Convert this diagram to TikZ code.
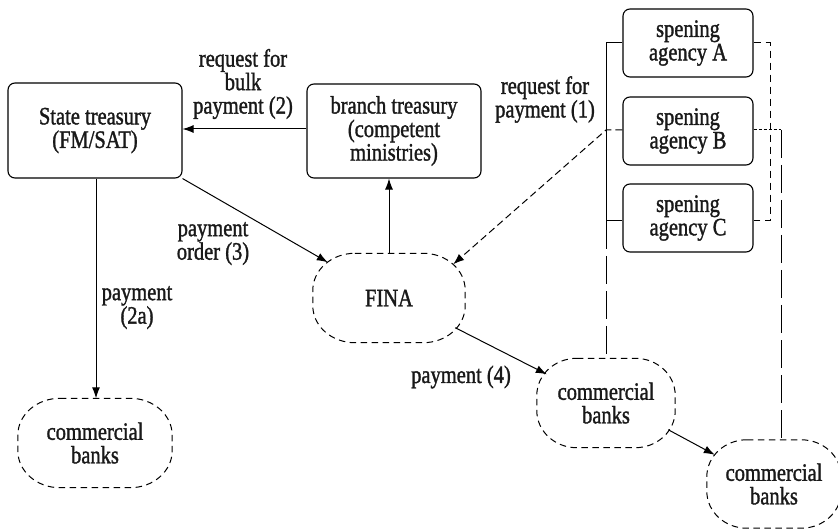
\documentclass[tikz,border=0pt]{standalone}
\usepackage{graphicx}
\usepackage{fontspec}
\setmainfont{Liberation Serif}[FakeBold=1.5]
\usetikzlibrary{arrows.meta}
\newcommand\sq[1]{\scalebox{0.82}[1]{#1}}
\newcommand\drawcloud[3]{%
  \draw[cloudline] ([xshift=#2pt]#1.north west) -- ([xshift=-#2pt]#1.north east)
    arc[start angle=-90,end angle=0,x radius=#2,y radius=#3]
    -- ([yshift=#3pt]#1.south east)
    arc[start angle=0,end angle=90,x radius=#2,y radius=#3]
    -- ([xshift=#2pt]#1.south west)
    arc[start angle=90,end angle=180,x radius=#2,y radius=#3]
    -- ([yshift=-#3pt]#1.north west)
    arc[start angle=180,end angle=270,x radius=#2,y radius=#3] -- cycle;}
\begin{document}
\begin{tikzpicture}[x=1pt,y=-1pt,
  every node/.style={font=\fontsize{25}{23.5}\selectfont, align=center, inner sep=0pt, text=black!90},
  box/.style={draw, line width=1.1pt, rounded corners=7pt},
  cloud/.style={minimum height=89pt},
  cloudline/.style={line width=1pt, dash pattern=on 6.5pt off 4.5pt},
  arr/.style={line width=1pt, -{Latex[length=11pt,width=8pt]}},
  dsh/.style={line width=1pt, dash pattern=on 7pt off 4pt},
  longdash/.style={line width=1pt, dash pattern=on 28pt off 7pt},
  shortdash/.style={line width=1pt, dash pattern=on 7pt off 5pt},
  dotdash/.style={line width=1pt, dash pattern=on 3pt off 2pt},
  lbl/.style={}
]
\useasboundingbox (0,0) rectangle (838,529);

% boxes
\node[box, minimum width=174pt, minimum height=95pt] (state) at (95,130.5) {\sq{State treasury}\\\sq{(FM/SAT)}};
\node[box, minimum width=174pt, minimum height=94pt] (branch) at (394,131) {\sq{branch treasury}\\\sq{(competent}\\\sq{ministries)}};
\node[box, minimum width=130pt, minimum height=68pt] (agA) at (688,43) {\sq{spening}\\\sq{agency A}};
\node[box, minimum width=130pt, minimum height=68pt] (agB) at (688,131) {\sq{spening}\\\sq{agency B}};
\node[box, minimum width=130pt, minimum height=68pt] (agC) at (688,218) {\sq{spening}\\\sq{agency C}};

% clouds
\node[cloud, minimum width=152pt] (fina) at (389,298) {\sq{FINA}};
\node[cloud, minimum width=154pt] (cbl) at (95,443) {\sq{commercial}\\\sq{banks}};
\node[cloud, minimum width=138pt] (cb1) at (606,403) {\sq{commercial}\\\sq{banks}};
\node[cloud, minimum width=134pt, minimum height=88pt] (cb2) at (774,484) {\sq{commercial}\\\sq{banks}};
\drawcloud{fina}{42}{37}
\drawcloud{cbl}{42}{37}
\drawcloud{cb1}{40}{37}
\drawcloud{cb2}{40}{37}

% labels
\node[lbl] (l2) at (243,84) {\sq{request for}\\\sq{bulk}\\\sq{payment (2)}};
\node[lbl] (l1) at (545,99.5) {\sq{request for}\\\sq{payment (1)}};
\node[lbl] (l3) at (213,243.5) {\sq{payment}\\\sq{order (3)}};
\node[lbl] (l2a) at (137,307.5) {\sq{payment}\\\sq{(2a)}};
\node[lbl] (l4) at (461,377) {\sq{payment (4)}};

% coordinates
\coordinate (ja) at (606,43);
\coordinate (jb) at (606,130);
\coordinate (jc) at (606,221);
\coordinate (ra) at (770,43);
\coordinate (rc) at (770,221);
\coordinate (rb) at (781,130);

% solid arrows
\draw[arr] (branch.west |- 0,129) -- (state.east |- 0,129);
\draw[arr] (state.south east) -- ([shift={(15,9)}]fina.north west);
\draw[arr] (fina.north -| 389,0) -- (branch.south -| 389,0);
\draw[arr] (state.south -| 96,0) -- (cbl.north -| 96,0);
\draw[arr] ([shift={(-10,-15)}]fina.south east) -- ([shift={(10,16)}]cb1.north west);
\draw[arr] ([shift={(-7,-18)}]cb1.south east) -- ([shift={(8,15)}]cb2.north west);

% dashed arrow from agency B to FINA
\draw[dsh, -{Latex[length=11pt,width=8pt]}] (agB.west |- jb) -- (jb) -- ([shift={(-12,11)}]fina.north east);

% left bracket
\draw[line width=1pt] (agA.west |- ja) -- (ja) -- (jc) -- (agC.west |- jc);
\draw[longdash] (jc) -- (cb1.north);

% right bracket
\draw[shortdash] (agA.east |- ra) -- (ra) -- (rc) -- (agC.east |- rc);
\draw[dotdash] (agB.east |- rb) -- (rb);
\draw[longdash] (rb) -- (rb |- cb2.north);
\end{tikzpicture}
\end{document}
